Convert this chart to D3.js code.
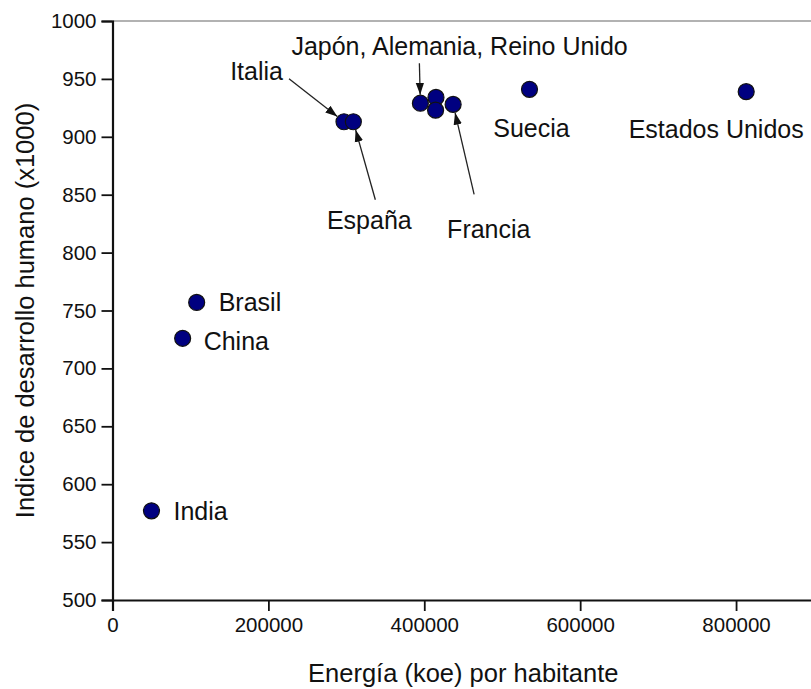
<!DOCTYPE html>
<html>
<head>
<meta charset="utf-8">
<script src="https://cdn.jsdelivr.net/npm/d3@7"></script>
<style>
  html, body { margin: 0; padding: 0; background: #fff; }
  svg { display: block; font-family: "Liberation Sans", Arial, sans-serif; }
</style>
</head>
<body>
<svg id="chart" width="811" height="689"></svg>
<script>
// Countries, energy use per inhabitant (koe) and human development index (x1000)
const countries = ["India", "China", "Brasil", "Italia", "España", "Japón", "Alemania", "Reino Unido", "Francia", "Suecia", "Estados Unidos"];
const energy    = [50000, 90000, 108000, 297000, 309000, 395000, 415000, 414500, 437000, 535000, 813000];
const hdi       = [577, 726, 757, 913, 913, 929, 934, 923, 928, 941, 939];

const xTicks = [0, 200000, 400000, 600000, 800000];
const xMinorTicks = [100000, 300000, 500000, 700000];
const yTicks = [500, 550, 600, 650, 700, 750, 800, 850, 900, 950, 1000];
const yMinorTicks = [525, 575, 625, 675, 725, 775, 825, 875, 925, 975];

const xTitle = "Energía (koe) por habitante";
const yTitle = "Indice de desarrollo humano (x1000)";

// Label placement, relative to the point each label belongs to (pixels)
const labels = [
  { text: "India",          ref: "India",          dx: 22,   dy: 0,   anchor: "start",  mid: true },
  { text: "China",          ref: "China",          dx: 21,   dy: 3,   anchor: "start",  mid: true },
  { text: "Brasil",         ref: "Brasil",         dx: 22,   dy: 0,   anchor: "start",  mid: true },
  { text: "Suecia",         ref: "Suecia",         dx: 2,    dy: 48,  anchor: "middle" },
  { text: "Estados Unidos", ref: "Estados Unidos", dx: -30,  dy: 46,  anchor: "middle" },
  { text: "Italia",         ref: "Italia",         dx: -61,  dy: -42, anchor: "end" },
  { text: "España",         ref: "España",         dx: 16,   dy: 107, anchor: "middle" },
  { text: "Japón, Alemania, Reino Unido", ref: "Japón", dx: -129, dy: -48, anchor: "start" },
  { text: "Francia",        ref: "Francia",        dx: -6,   dy: 134, anchor: "start" }
];
// Arrows: tail relative to the target point (pixels); head stops at the marker edge
const arrows = [
  { ref: "Italia",  dx: -55, dy: -43 },
  { ref: "España",  dx: 22,  dy: 78 },
  { ref: "Japón",   dx: -1,  dy: -40 },
  { ref: "Francia", dx: 21,  dy: 90 }
];

const svg = d3.select("#chart");
const x = d3.scaleLinear().domain([0, 900000]).range([112.5, 814]);
const y = d3.scaleLinear().domain([500, 1000]).range([600, 21]);
const R = 8;

// frame line along the top
svg.append("line")
  .attr("x1", x(0)).attr("x2", x(900000))
  .attr("y1", y(1000)).attr("y2", y(1000))
  .attr("stroke", "#666").attr("stroke-width", 1.2);

// axes
const gx = svg.append("g").attr("transform", `translate(0,${y(500)})`);
gx.call(d3.axisBottom(x).tickValues(xMinorTicks).tickSize(6).tickFormat(""));
gx.call(d3.axisBottom(x).tickValues(xTicks).tickSize(11).tickPadding(6).tickFormat(d3.format("d")));
const gy = svg.append("g").attr("transform", `translate(${x(0)},0)`);
gy.call(d3.axisLeft(y).tickValues(yMinorTicks).tickSize(6).tickFormat(""));
gy.call(d3.axisLeft(y).tickValues(yTicks).tickSize(11).tickPadding(5).tickFormat(d3.format("d")));

svg.selectAll(".domain").attr("stroke", "#111").attr("stroke-width", 2.2);
svg.selectAll(".tick line").attr("stroke", "#111").attr("stroke-width", 1.8);
svg.selectAll(".tick text").attr("font-size", 20.5).attr("fill", "#111")
  .attr("font-family", '"Liberation Sans", Arial, sans-serif');
gx.selectAll(".tick text").attr("dy", "0.75em");

// axis titles, centred on the plotting area
svg.append("text")
  .attr("x", (x(0) + x(900000)) / 2).attr("y", 682)
  .attr("text-anchor", "middle").attr("font-size", 25.5).attr("fill", "#111")
  .text(xTitle);
svg.append("text")
  .attr("transform", `translate(34,${(y(500) + y(1000)) / 2}) rotate(-90)`)
  .attr("text-anchor", "middle").attr("font-size", 25.5).attr("fill", "#111")
  .text(yTitle);

// points
const pts = countries.map((c, i) => ({ name: c, px: x(energy[i]), py: y(hdi[i]) }));
const byName = Object.fromEntries(pts.map(p => [p.name, p]));

// arrow head
svg.append("defs").append("marker")
  .attr("id", "head").attr("viewBox", "0 0 10 10")
  .attr("refX", 10).attr("refY", 5)
  .attr("markerWidth", 12).attr("markerHeight", 12)
  .attr("markerUnits", "userSpaceOnUse")
  .attr("orient", "auto")
  .append("path").attr("d", "M0,1.5 L10,5 L0,8.5 Z").attr("fill", "#111");

arrows.forEach(a => {
  const p = byName[a.ref];
  const len = Math.hypot(a.dx, a.dy);
  const ux = a.dx / len, uy = a.dy / len;
  svg.append("line")
    .attr("x1", p.px + a.dx).attr("y1", p.py + a.dy)
    .attr("x2", p.px + ux * (R + 0.5)).attr("y2", p.py + uy * (R + 0.5))
    .attr("stroke", "#222").attr("stroke-width", 1.3)
    .attr("marker-end", "url(#head)");
});

svg.append("g").selectAll("circle").data(pts).join("circle")
  .attr("cx", d => d.px).attr("cy", d => d.py).attr("r", R)
  .attr("fill", "#000080").attr("stroke", "#111").attr("stroke-width", 1.2);

// labels
labels.forEach(l => {
  const p = byName[l.ref];
  svg.append("text")
    .attr("x", p.px + l.dx).attr("y", p.py + l.dy)
    .attr("text-anchor", l.anchor)
    .attr("dominant-baseline", l.mid ? "central" : "auto")
    .attr("font-size", 25).attr("fill", "#111")
    .text(l.text);
});
</script>
</body>
</html>
